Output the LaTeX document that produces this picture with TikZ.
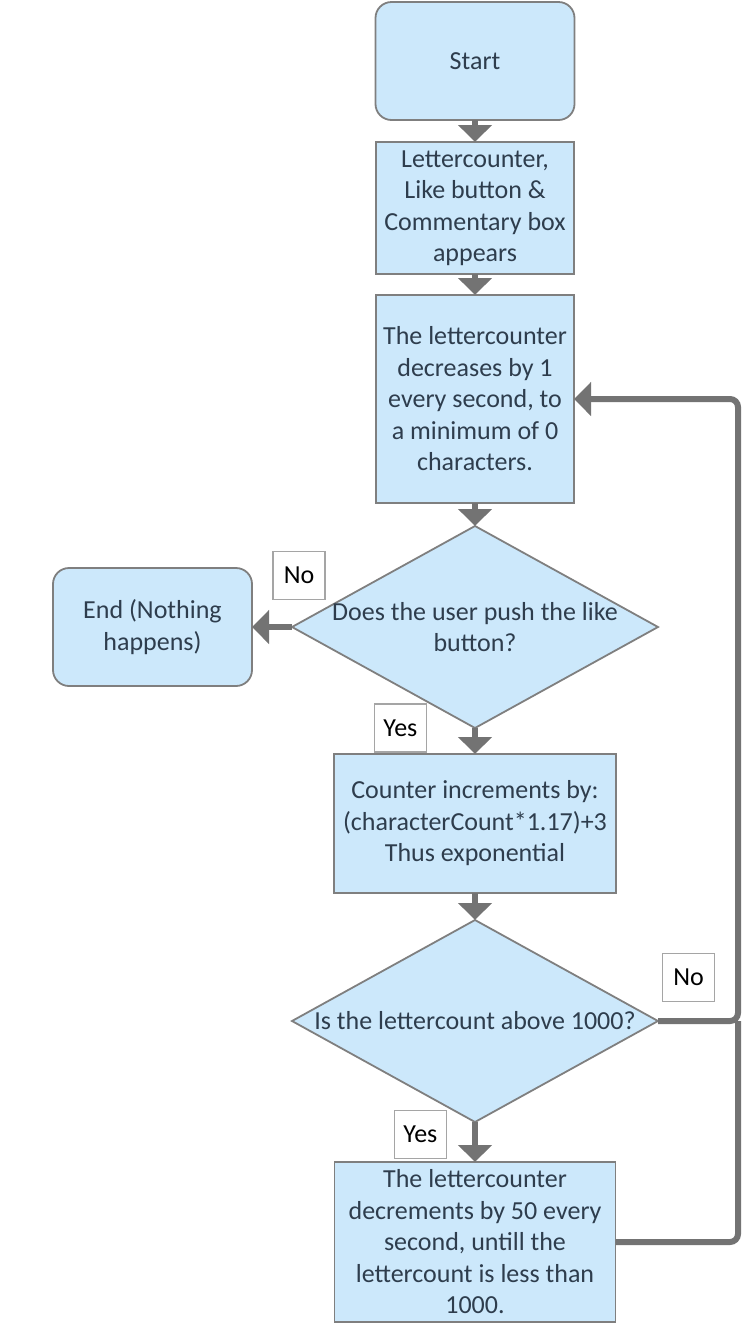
\documentclass[tikz,border=0pt]{standalone}
\usepackage{fontspec}
\setmainfont{Carlito}
\usetikzlibrary{arrows.meta,positioning,shapes.geometric}
\definecolor{boxblue}{HTML}{CCE8FB}
\definecolor{linegrey}{HTML}{7F7F7F}
\definecolor{arrowgrey}{HTML}{737373}
\definecolor{inkblue}{HTML}{2E3D4D}

\begin{document}
\begin{tikzpicture}[
    x=1pt, y=1pt,
    font=\fontsize{26}{31.5}\selectfont,
    >={Triangle[width=33pt,length=17pt]},
    box/.style={rectangle,draw=linegrey,line width=1.8pt,fill=boxblue,text=inkblue,align=center,inner sep=0pt,outer sep=0pt},
    terminal/.style={box,rounded corners=16pt,minimum width=199pt,minimum height=118pt},
    decision/.style={diamond,draw=linegrey,line width=1.8pt,fill=boxblue,inner sep=0pt,outer sep=0pt,minimum width=366pt,minimum height=202pt},
    dectext/.style={text=inkblue,align=center},
    flow/.style={->,draw=arrowgrey,line width=6pt},
    rail/.style={draw=arrowgrey,line width=6pt,rounded corners=8pt},
    answer/.style={rectangle,draw=linegrey!70,line width=1.2pt,fill=white,text=black,minimum width=52pt,minimum height=48pt,inner sep=0pt}
]
\useasboundingbox (0,0) rectangle (751,-1334);

% Main column
\node[terminal] (start) at (475,-61) {Start};
\node[box,minimum width=198pt,minimum height=132pt,below=22pt of start] (show) {Lettercounter,\\Like button \&\\Commentary box\\appears};
\node[box,minimum width=198pt,minimum height=208pt,below=21pt of show] (decr) {The lettercounter\\decreases by 1\\every second, to\\a minimum of 0\\characters.};
\node[decision,below=23pt of decr,label={[dectext]center:Does the user push the like\\button?}] (like) {};
\node[box,minimum width=282pt,minimum height=139pt,below=26pt of like] (incr) {Counter increments by:\\(characterCount*1.17)+3\\Thus exponential};
\node[decision,below=27pt of incr,label={[dectext]center:Is the lettercount above 1000?}] (check) {};
\node[box,minimum width=281pt,minimum height=160pt,below=40pt of check] (drop) {The lettercounter\\decrements by 50 every\\second, untill the\\lettercount is less than\\1000.};

% End
\node[terminal,left=40pt of like] (stop) {End (Nothing\\happens)};

% Answers
\node[answer,above=27pt of like.west,xshift=7pt] (no1) {No};
\node[answer,left=48pt of like.south] (yes1) {Yes};
\node[answer,above right=19pt and 4pt of check.east] (no2) {No};
\node[answer,left=28pt of check.south,yshift=-12.5pt] (yes2) {Yes};

% Flow
\draw[flow] (start) -- (show);
\draw[flow] (show) -- (decr);
\draw[flow] (decr) -- (like);
\draw[flow] (like) -- (stop);
\draw[flow] (like) -- (incr);
\draw[flow] (incr) -- (check);
\draw[flow] (check) -- (drop);

% Loop back
\coordinate[right=80pt of check.east] (back);
\draw[rail] (drop.east) -| (back);
\draw[flow,rounded corners=8pt] (check.east) -- (back) |- (decr.east);

\end{tikzpicture}
\end{document}
